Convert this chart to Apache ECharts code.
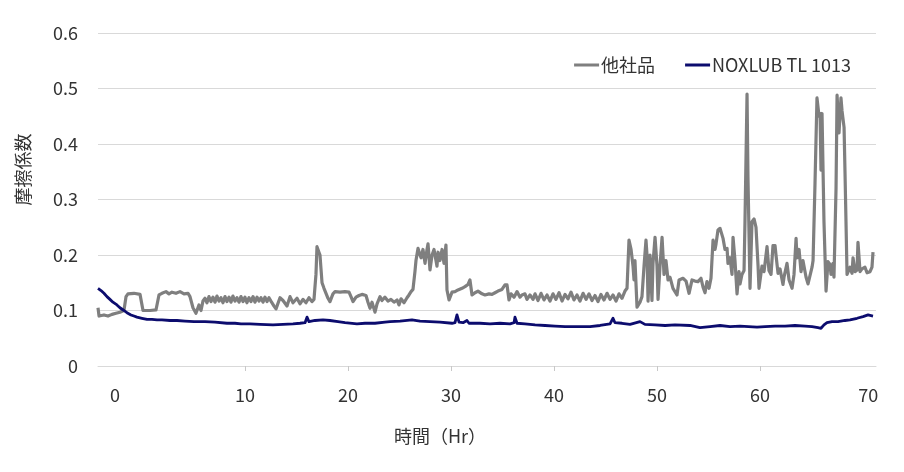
<!DOCTYPE html>
<html>
<head>
<meta charset="utf-8">
<script src="https://cdn.jsdelivr.net/npm/echarts@6/dist/echarts.min.js"></script>
<style>html,body{margin:0;padding:0;background:#fff}#c{width:904px;height:472px}</style>
</head>
<body>
<div id="c"></div>
<script>
const seriesNames = ['他社品', 'NOXLUB TL 1013'];
const xTickLabels = ['0', '10', '20', '30', '40', '50', '60', '70'];
const xTickLabelAt = [-2.62, 10, 20, 30, 40, 50, 60, 70.5];
const xTickMarks = [10, 20, 30, 40, 50, 60];

const othersTime = [-4.27,-4.17,-3.69,-3.30,-2.91,-2.52,-2.14,-1.75,-1.55,-1.36,-0.78,-0.19,0.10,0.78,1.36,1.65,1.94,2.33,2.62,2.91,3.30,3.69,4.08,4.47,4.66,4.95,5.24,5.53,5.73,5.92,6.12,6.31,6.50,6.70,6.89,7.09,7.28,7.48,7.67,7.86,8.06,8.25,8.45,8.64,8.83,9.03,9.22,9.42,9.61,9.81,10.00,10.19,10.39,10.58,10.78,10.97,11.17,11.36,11.55,11.75,11.94,12.14,12.33,12.52,12.82,13.01,13.40,13.69,14.08,14.37,14.66,15.05,15.34,15.63,15.92,16.21,16.50,16.70,16.89,16.99,17.18,17.28,17.48,17.67,17.86,18.06,18.25,18.54,18.74,19.22,19.71,20.10,20.29,20.49,20.78,21.07,21.36,21.75,21.94,22.14,22.33,22.62,22.82,23.11,23.30,23.59,23.88,24.17,24.47,24.76,24.95,25.15,25.44,25.73,25.92,26.12,26.31,26.50,26.60,26.80,26.99,27.09,27.28,27.48,27.67,27.77,27.96,28.16,28.35,28.64,28.74,28.93,29.13,29.32,29.51,29.61,29.81,30.10,30.39,30.68,31.07,31.36,31.65,31.84,32.04,32.33,32.62,33.01,33.30,33.69,33.98,34.27,34.56,34.95,35.24,35.44,35.63,35.83,36.12,36.41,36.70,36.89,37.18,37.38,37.67,37.96,38.16,38.45,38.74,39.03,39.32,39.61,39.90,40.19,40.49,40.78,41.07,41.36,41.65,41.94,42.23,42.52,42.82,43.11,43.40,43.69,43.98,44.27,44.56,44.85,45.15,45.44,45.73,46.02,46.31,46.60,46.89,47.09,47.28,47.48,47.67,47.77,47.86,48.06,48.35,48.54,48.74,48.93,49.03,49.13,49.32,49.51,49.61,49.81,50.00,50.10,50.29,50.49,50.68,50.87,51.07,51.26,51.55,51.94,52.14,52.52,52.82,53.11,53.40,53.69,53.98,54.27,54.47,54.66,54.85,55.05,55.24,55.44,55.63,55.73,55.92,56.12,56.41,56.60,56.80,56.89,57.09,57.28,57.38,57.57,57.77,57.96,58.06,58.25,58.45,58.54,58.74,58.83,59.03,59.22,59.42,59.61,59.81,59.90,60.19,60.39,60.68,60.87,61.07,61.26,61.46,61.55,61.75,61.94,62.23,62.33,62.62,62.82,63.11,63.30,63.50,63.59,63.79,63.98,64.17,64.47,64.66,64.85,65.05,65.15,65.34,65.53,65.73,65.83,65.92,66.02,66.21,66.41,66.60,66.80,66.89,67.09,67.18,67.38,67.48,67.67,67.86,67.96,68.16,68.25,68.45,68.64,68.74,68.93,69.03,69.22,69.42,69.51,69.71,69.90,70.19,70.39,70.68,70.87,70.97];
const othersValue = [0.105,0.090,0.092,0.090,0.093,0.095,0.097,0.100,0.125,0.130,0.131,0.129,0.100,0.100,0.101,0.128,0.131,0.134,0.130,0.133,0.131,0.134,0.130,0.131,0.125,0.105,0.095,0.110,0.100,0.117,0.122,0.114,0.125,0.116,0.124,0.115,0.126,0.117,0.123,0.114,0.125,0.116,0.124,0.115,0.126,0.117,0.123,0.115,0.125,0.116,0.124,0.114,0.123,0.116,0.125,0.115,0.124,0.117,0.123,0.115,0.124,0.116,0.123,0.117,0.108,0.103,0.123,0.118,0.108,0.125,0.114,0.122,0.112,0.120,0.114,0.123,0.116,0.120,0.165,0.215,0.205,0.200,0.150,0.140,0.137,0.122,0.116,0.130,0.134,0.133,0.134,0.133,0.125,0.116,0.124,0.127,0.129,0.127,0.115,0.104,0.115,0.097,0.112,0.125,0.118,0.124,0.117,0.120,0.115,0.119,0.110,0.121,0.114,0.123,0.128,0.134,0.138,0.170,0.190,0.212,0.200,0.195,0.210,0.185,0.210,0.220,0.173,0.200,0.210,0.180,0.205,0.190,0.210,0.185,0.218,0.137,0.119,0.133,0.134,0.137,0.140,0.143,0.147,0.155,0.128,0.132,0.135,0.130,0.128,0.130,0.129,0.132,0.135,0.138,0.146,0.146,0.119,0.130,0.124,0.134,0.124,0.128,0.130,0.120,0.128,0.120,0.130,0.118,0.131,0.119,0.128,0.117,0.130,0.120,0.132,0.117,0.129,0.121,0.133,0.119,0.128,0.117,0.131,0.120,0.130,0.118,0.127,0.116,0.129,0.119,0.131,0.120,0.128,0.117,0.130,0.122,0.135,0.140,0.227,0.210,0.180,0.155,0.190,0.106,0.115,0.125,0.180,0.227,0.200,0.117,0.200,0.118,0.185,0.232,0.180,0.120,0.180,0.232,0.165,0.190,0.155,0.160,0.140,0.128,0.155,0.158,0.153,0.131,0.155,0.153,0.152,0.158,0.142,0.132,0.152,0.140,0.158,0.227,0.210,0.220,0.245,0.248,0.230,0.210,0.212,0.185,0.195,0.165,0.232,0.190,0.130,0.170,0.148,0.165,0.172,0.260,0.490,0.340,0.140,0.260,0.265,0.250,0.180,0.140,0.180,0.170,0.215,0.172,0.165,0.217,0.217,0.200,0.167,0.175,0.147,0.160,0.185,0.155,0.140,0.165,0.230,0.195,0.210,0.170,0.190,0.160,0.148,0.147,0.178,0.190,0.330,0.483,0.450,0.455,0.353,0.455,0.260,0.135,0.188,0.183,0.165,0.185,0.160,0.320,0.488,0.420,0.483,0.460,0.430,0.350,0.165,0.167,0.178,0.167,0.195,0.170,0.173,0.223,0.170,0.175,0.178,0.168,0.170,0.178,0.205];

const noxTime = [-4.27,-3.98,-3.69,-3.40,-3.11,-2.82,-2.43,-2.14,-1.75,-1.46,-1.07,-0.78,-0.49,0.00,0.49,0.97,1.46,1.94,2.72,3.40,4.17,5.05,6.12,7.09,8.25,9.03,9.61,10.49,11.46,12.72,13.69,14.66,15.34,15.83,16.02,16.21,16.80,17.57,18.25,19.03,19.71,20.87,21.65,22.62,23.59,24.08,25.05,26.21,26.99,27.96,28.93,30.10,30.39,30.58,30.78,31.17,31.55,31.75,32.82,33.79,34.76,35.73,36.12,36.21,36.41,37.18,38.16,39.13,40.10,41.07,42.04,43.50,44.47,45.44,45.73,45.92,46.60,47.38,48.35,48.54,48.83,49.81,50.78,51.75,53.20,54.17,55.15,56.12,57.09,58.06,59.71,60.49,61.46,62.43,63.40,64.37,65.05,65.63,65.92,66.21,66.50,66.99,67.57,68.25,68.74,69.42,70.00,70.49,70.97];
const noxValue = [0.140,0.136,0.131,0.125,0.120,0.115,0.110,0.105,0.100,0.096,0.092,0.090,0.088,0.086,0.084,0.084,0.083,0.083,0.082,0.082,0.081,0.080,0.080,0.079,0.077,0.077,0.076,0.076,0.075,0.074,0.075,0.076,0.077,0.078,0.088,0.080,0.082,0.083,0.082,0.080,0.078,0.076,0.077,0.077,0.079,0.080,0.081,0.083,0.081,0.080,0.079,0.077,0.078,0.092,0.079,0.078,0.082,0.077,0.077,0.076,0.077,0.076,0.078,0.088,0.077,0.076,0.074,0.073,0.072,0.071,0.071,0.071,0.073,0.076,0.086,0.078,0.077,0.075,0.080,0.083,0.075,0.074,0.073,0.074,0.073,0.069,0.071,0.073,0.071,0.072,0.070,0.071,0.072,0.072,0.073,0.072,0.071,0.069,0.068,0.074,0.078,0.080,0.080,0.082,0.083,0.086,0.089,0.092,0.090];

const FONT = '"Noto Sans CJK JP", "Noto Sans", sans-serif';
const TXT = '#333333';
const GRIDC = '#d9d9d9';

const chart = echarts.init(document.getElementById('c'), null, {renderer: 'canvas'});
chart.setOption({
  animation: false,
  textStyle: {fontFamily: FONT},
  grid: {left: 98, right: 28, top: 33, bottom: 106, containLabel: false},
  legend: {
    top: 51, right: 48,
    icon: 'rect', itemWidth: 25, itemHeight: 3, itemGap: 30,
    textStyle: {fontFamily: FONT, fontSize: 18, color: TXT, padding: [0, 0, 0, -3]},
    data: seriesNames
  },
  xAxis: {
    type: 'value', min: -4.27, max: 71.26,
    name: '時間（Hr）', nameLocation: 'middle', nameGap: 61,
    nameTextStyle: {fontFamily: FONT, fontSize: 18, color: TXT, padding: [0, 94, 0, 0]},
    axisLine: {show: true, lineStyle: {color: GRIDC, width: 1}},
    axisTick: {show: true, customValues: xTickMarks, length: 5, lineStyle: {color: '#c8c8c8'}},
    axisLabel: {
      customValues: xTickLabelAt, margin: 20, fontFamily: FONT, fontSize: 18, color: TXT,
      formatter: v => xTickLabels[xTickLabelAt.indexOf(v)]
    },
    splitLine: {show: false}
  },
  yAxis: {
    type: 'value', min: 0, max: 0.6, interval: 0.1,
    name: '摩擦係数', nameLocation: 'middle', nameRotate: 90, nameGap: 66,
    nameTextStyle: {fontFamily: FONT, fontSize: 18, color: TXT, padding: [0, 0, 0, 60]},
    axisLine: {show: false}, axisTick: {show: false},
    axisLabel: {margin: 20, fontFamily: FONT, fontSize: 18, color: TXT,
      formatter: v => v === 0 ? '0' : v.toFixed(1)},
    splitLine: {lineStyle: {color: GRIDC, width: 1}}
  },
  series: [
    {
      name: seriesNames[0], type: 'line', showSymbol: false, symbol: 'none',
      data: othersTime.map((t, i) => [t, othersValue[i]]),
      lineStyle: {color: '#7f7f7f', width: 3.2, join: 'round'},
      itemStyle: {color: '#7f7f7f'}
    },
    {
      name: seriesNames[1], type: 'line', showSymbol: false, symbol: 'none',
      data: noxTime.map((t, i) => [t, noxValue[i]]),
      lineStyle: {color: '#0c0c6e', width: 2.8, join: 'round'},
      itemStyle: {color: '#0c0c6e'}
    }
  ]
});
</script>
</body>
</html>
